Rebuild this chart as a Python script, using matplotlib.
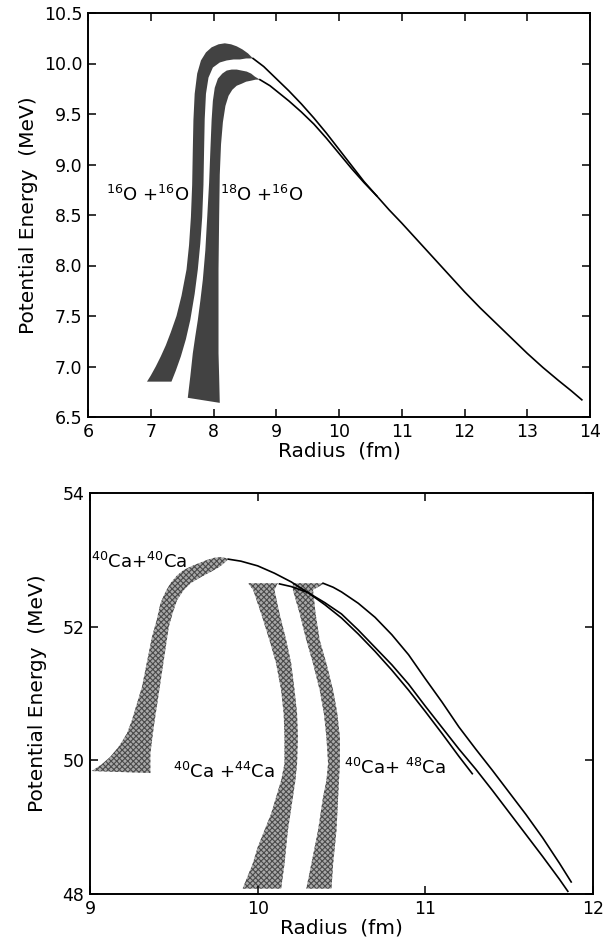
import numpy as np
import matplotlib; matplotlib.use("Agg")
import matplotlib.pyplot as plt

plt.rcParams["font.family"] = ["DejaVu Sans"]
plt.rcParams["hatch.linewidth"] = 0.8

# ---- top panel: 16O+16O and 18O+16O ----
o16_out_r = [6.94, 7.00, 7.08, 7.16, 7.24, 7.32, 7.41, 7.49, 7.57, 7.61, 7.64, 7.66, 7.67, 7.68, 7.70, 7.74, 7.80, 7.88, 7.97, 8.08, 8.18, 8.28, 8.37, 8.46, 8.55, 8.63]
o16_out_e = [6.85, 6.91, 7.00, 7.10, 7.21, 7.34, 7.50, 7.70, 7.96, 8.20, 8.48, 8.80, 9.14, 9.44, 9.70, 9.90, 10.03, 10.11, 10.16, 10.19, 10.20, 10.19, 10.17, 10.14, 10.10, 10.05]
o16_in_r = [7.33, 7.40, 7.48, 7.56, 7.63, 7.70, 7.75, 7.79, 7.82, 7.84, 7.85, 7.86, 7.88, 7.92, 7.99, 8.10, 8.21, 8.32, 8.42, 8.52, 8.63]
o16_in_e = [6.85, 6.96, 7.10, 7.27, 7.46, 7.72, 7.96, 8.22, 8.48, 8.80, 9.14, 9.45, 9.70, 9.86, 9.96, 10.01, 10.03, 10.04, 10.04, 10.05, 10.05]

o18_out_r = [7.59, 7.63, 7.67, 7.71, 7.75, 7.79, 7.83, 7.87, 7.90, 7.93, 7.95, 7.97, 7.99, 8.02, 8.07, 8.14, 8.21, 8.29, 8.37, 8.45, 8.53, 8.60, 8.66, 8.74]
o18_out_e = [6.69, 6.90, 7.13, 7.30, 7.46, 7.65, 7.86, 8.15, 8.48, 8.82, 9.14, 9.44, 9.63, 9.76, 9.85, 9.90, 9.93, 9.94, 9.94, 9.93, 9.92, 9.90, 9.87, 9.84]
o18_in_r = [8.10, 8.09, 8.08, 8.08, 8.08, 8.09, 8.10, 8.12, 8.15, 8.19, 8.24, 8.30, 8.37, 8.45, 8.52, 8.60, 8.67, 8.74]
o18_in_e = [6.64, 6.90, 7.13, 7.46, 7.96, 8.48, 8.90, 9.20, 9.42, 9.58, 9.68, 9.74, 9.78, 9.80, 9.82, 9.83, 9.84, 9.84]

o16_line_r = [8.63, 8.80, 9.00, 9.20, 9.40, 9.60, 9.80, 10.00, 10.20, 10.40, 10.60, 10.80, 11.00, 11.25, 11.50, 11.75,
              12.00, 12.25, 12.50, 12.75, 13.00, 13.25, 13.50, 13.70, 13.87]
o16_line_e = [10.05, 9.97, 9.85, 9.73, 9.60, 9.46, 9.31, 9.15, 8.99, 8.83, 8.69, 8.55, 8.42, 8.25, 8.08, 7.91,
              7.74, 7.58, 7.43, 7.28, 7.13, 6.99, 6.86, 6.76, 6.67]
o18_line_r = [8.74, 8.90, 9.06, 9.20, 9.40, 9.60, 9.80, 10.00, 10.20, 10.40, 10.60]
o18_line_e = [9.84, 9.78, 9.70, 9.63, 9.52, 9.40, 9.26, 9.11, 8.96, 8.82, 8.69]

# ---- bottom panel: 40Ca + 40,44,48Ca ----
ca40_out_r = [9.01, 9.07, 9.12, 9.17, 9.22, 9.25, 9.28, 9.31, 9.33, 9.35, 9.37, 9.40, 9.42, 9.45, 9.48, 9.52, 9.56, 9.61, 9.66, 9.70, 9.74, 9.78, 9.825]
ca40_out_e = [49.84, 49.94, 50.05, 50.20, 50.40, 50.60, 50.85, 51.10, 51.35, 51.60, 51.85, 52.12, 52.35, 52.52, 52.65, 52.77, 52.85, 52.91, 52.96, 53.00, 53.03, 53.04, 53.02]
ca40_in_r = [9.36, 9.36, 9.37, 9.38, 9.395, 9.41, 9.425, 9.44, 9.455, 9.47, 9.495, 9.52, 9.56, 9.60, 9.66, 9.72, 9.77, 9.80, 9.825]
ca40_in_e = [49.81, 50.10, 50.30, 50.50, 50.75, 51.00, 51.25, 51.50, 51.75, 52.00, 52.22, 52.40, 52.55, 52.65, 52.74, 52.82, 52.89, 52.95, 53.01]

band_e = [52.65, 52.55, 52.20, 51.80, 51.45, 51.05, 50.70, 50.35, 49.95, 49.70, 49.45, 49.20, 48.95, 48.70, 48.45, 48.08]
ca44_left_r = [9.943, 9.973, 10.02, 10.07, 10.11, 10.14, 10.155, 10.16, 10.16, 10.14, 10.11, 10.08, 10.04, 10.00, 9.97, 9.91]
ca44_right_r = [10.12, 10.10, 10.13, 10.17, 10.20, 10.22, 10.235, 10.24, 10.235, 10.225, 10.21, 10.195, 10.18, 10.17, 10.16, 10.14]
ca48_left_r = [10.21, 10.21, 10.25, 10.29, 10.33, 10.37, 10.395, 10.41, 10.42, 10.41, 10.39, 10.375, 10.36, 10.34, 10.32, 10.29]
ca48_right_r = [10.40, 10.33, 10.345, 10.37, 10.41, 10.45, 10.475, 10.49, 10.49, 10.485, 10.48, 10.475, 10.47, 10.46, 10.45, 10.44]

ca40_line_r = [9.825, 9.90, 10.00, 10.10, 10.20, 10.30, 10.40, 10.50, 10.60, 10.70, 10.80, 10.90, 11.00, 11.10, 11.20, 11.28]
ca40_line_e = [53.01, 52.98, 52.91, 52.80, 52.67, 52.51, 52.33, 52.13, 51.89, 51.63, 51.35, 51.05, 50.73, 50.40, 50.06, 49.80]
ca44_line_r = [10.13, 10.20, 10.30, 10.40, 10.50, 10.60, 10.70, 10.80, 10.90, 11.00, 11.10, 11.20, 11.30, 11.40,
               11.50, 11.60, 11.70, 11.80, 11.85]
ca44_line_e = [52.64, 52.60, 52.51, 52.36, 52.19, 51.95, 51.69, 51.43, 51.14, 50.81, 50.49, 50.17, 49.87, 49.55,
               49.22, 48.89, 48.56, 48.22, 48.04]
ca48_line_r = [10.39, 10.45, 10.50, 10.60, 10.70, 10.80, 10.90, 11.00, 11.10, 11.20, 11.30, 11.40, 11.50, 11.60,
               11.70, 11.80, 11.87]
ca48_line_e = [52.65, 52.59, 52.52, 52.35, 52.14, 51.88, 51.58, 51.22, 50.87, 50.50, 50.17, 49.85, 49.52, 49.19,
               48.84, 48.46, 48.18]


def band(ax, r1, e1, r2, e2, **kw):
    r = list(r1) + list(r2)[::-1]
    e = list(e1) + list(e2)[::-1]
    ax.fill(r, e, **kw)


def style(ax):
    ax.tick_params(direction="in", top=True, right=True, length=6, width=1.1,
                   labelsize=12.5, pad=4)
    for s in ax.spines.values():
        s.set_linewidth(1.4)


fig = plt.figure(figsize=(6.08, 9.41), dpi=100)
W, H = 608, 941
ax1 = fig.add_axes([88 / W, 1 - 417 / H, (590 - 88) / W, (417 - 13) / H])
ax2 = fig.add_axes([90 / W, 1 - 894 / H, (593 - 90) / W, (894 - 493) / H])

dark = dict(facecolor="#424242", edgecolor="none", lw=0)
band(ax1, o16_out_r, o16_out_e, o16_in_r, o16_in_e, **dark)
band(ax1, o18_out_r, o18_out_e, o18_in_r, o18_in_e, **dark)
ax1.plot(o16_line_r, o16_line_e, color="k", lw=1.2)
ax1.plot(o18_line_r, o18_line_e, color="k", lw=1.2)
ax1.text(6.95, 8.70, r"$^{16}$O +$^{16}$O", fontsize=13, ha="center", va="center")
ax1.text(8.77, 8.70, r"$^{18}$O +$^{16}$O", fontsize=13, ha="center", va="center")
ax1.set_xlim(6, 14); ax1.set_ylim(6.5, 10.5)
ax1.set_xticks(range(6, 15))
ax1.set_yticks(np.arange(6.5, 10.51, 0.5))
ax1.set_yticklabels([f"{v:.1f}" for v in np.arange(6.5, 10.51, 0.5)])
ax1.set_xlabel("Radius  (fm)", fontsize=14.5, labelpad=1)
ax1.set_ylabel("Potential Energy  (MeV)", fontsize=14.5)
ax1.yaxis.set_label_coords(-0.10, 0.5)
style(ax1)

light = dict(facecolor="#a9a9a9", edgecolor="#4a4a4a", hatch="xxxxxx", lw=0)
band(ax2, ca40_out_r, ca40_out_e, ca40_in_r, ca40_in_e, **light)
band(ax2, ca44_left_r, band_e, ca44_right_r, band_e, **light)
band(ax2, ca48_left_r, band_e, ca48_right_r, band_e, **light)
for r, e in [(ca40_line_r, ca40_line_e), (ca44_line_r, ca44_line_e), (ca48_line_r, ca48_line_e)]:
    ax2.plot(r, e, color="k", lw=1.2)
ax2.text(9.29, 52.97, r"$^{40}$Ca+$^{40}$Ca", fontsize=13, ha="center", va="center")
ax2.text(9.80, 49.82, r"$^{40}$Ca +$^{44}$Ca", fontsize=13, ha="center", va="center")
ax2.text(10.82, 49.88, r"$^{40}$Ca+ $^{48}$Ca", fontsize=13, ha="center", va="center")
ax2.set_xlim(9, 12); ax2.set_ylim(48, 54)
ax2.set_xticks([9, 10, 11, 12])
ax2.set_yticks([48, 50, 52, 54])
ax2.set_xlabel("Radius  (fm)", fontsize=14.5, labelpad=1)
ax2.set_ylabel("Potential Energy  (MeV)", fontsize=14.5)
ax2.yaxis.set_label_coords(-0.085, 0.5)
style(ax2)

fig.savefig("out.png", dpi=100)
